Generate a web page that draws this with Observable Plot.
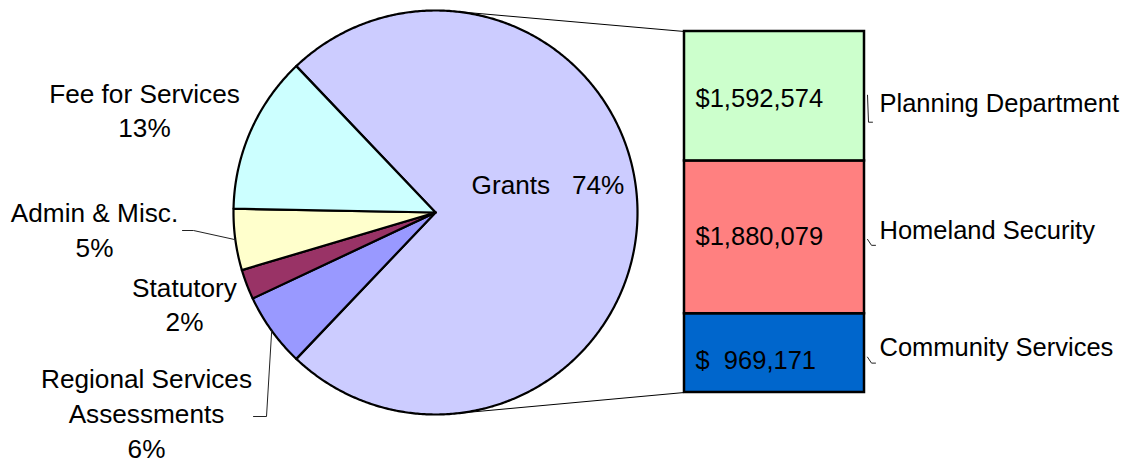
<!DOCTYPE html>
<html>
<head>
<meta charset="utf-8">
<script src="https://cdn.jsdelivr.net/npm/d3@7"></script>
<script src="https://cdn.jsdelivr.net/npm/@observablehq/plot@0.6"></script>
<style>
  html, body { margin: 0; padding: 0; background: #ffffff; }
  #chart svg text { white-space: pre; }
</style>
</head>
<body>
<div id="chart"></div>
<script>
// ---------- DATA ----------
// Pie slices, clockwise starting with the exploded "Grants" slice
const pieCategories = ["Grants", "Regional Services Assessments", "Statutory", "Admin & Misc.", "Fee for Services"];
const pieLabelNames = ["Grants", "Regional Services\nAssessments", "Statutory", "Admin & Misc.", "Fee for Services"];
const pieShares = [74.2, 5.9, 2.4, 4.9, 12.6]; // percent of total revenue

// Bar: breakdown of Grants (top to bottom)
const barCategories = ["Planning Department", "Homeland Security", "Community Services"];
const barValues = [1592574, 1880079, 969171];

// ---------- STYLES ----------
const pieColors = ["#CCCCFF", "#9999FF", "#993366", "#FFFFCC", "#CCFFFF"];
const barColors = ["#CCFFCC", "#FF8080", "#0066CC"];
const FONT = "Liberation Sans, Arial, sans-serif";
const FS = 25.5;
const FS_PIE = 26.2;

// ---------- LAYOUT (pixels) ----------
const W = 1126, H = 463;
const L = {cx: 435, cy: 212, r: 202, barX1: 684, barX2: 864, barTop: 31, barBottom: 392};
const pieLabelPos = [
  {x: 547.5, y: 182},
  {x: 146, y: 411.5},
  {x: 184, y: 302.5},
  {x: 94, y: 228},
  {x: 144, y: 108.5}
];
// leader lines: label-side start and elbow; they end on the slice's mid-angle arc point
const pieLeaderStart = [null, [[253, 416], [266, 416]], null, [[182, 230], [193, 230]], null];
const barValueDy = [3, -1, 8];
const barNameDy = [8, -7, -5];
const valueX = L.barX1 + 11;
const nameX = L.barX2 + 15;

// ---------- DERIVED ----------
const barTotal = d3.sum(barValues);
const kPx = barTotal / (L.barBottom - L.barTop);       // value units per pixel
const pv = py => (L.barBottom - py) * kPx;             // pixel y -> y-scale value
const rad = Math.PI / 180;
const pt = (deg) => [L.cx + L.r * Math.sin(deg * rad), L.cy - L.r * Math.cos(deg * rad)];

const shareTotal = d3.sum(pieShares);
let ang = 90 - (pieShares[0] / shareTotal) * 360 / 2;   // "Grants" centred on 3 o'clock
const slices = pieCategories.map((name, i) => {
  const a0 = ang, a1 = ang + (pieShares[i] / shareTotal) * 360;
  ang = a1;
  return {name, i, a0, a1, mid: (a0 + a1) / 2};
});

const pieRows = slices.flatMap(s => {
  const n = Math.max(2, Math.ceil((s.a1 - s.a0) / 0.5));
  const pts = [[L.cx, L.cy]];
  for (let k = 0; k <= n; k++) pts.push(pt(s.a0 + (s.a1 - s.a0) * k / n));
  pts.push([L.cx, L.cy]);
  return pts.map(([x, y]) => ({name: s.name, color: pieColors[s.i], x, y: pv(y)}));
});

const pieTextRows = slices.map(s => {
  const pct = Math.round(pieShares[s.i] / shareTotal * 100) + "%";
  const label = s.i === 0 ? `${pieLabelNames[s.i]}   ${pct}` : `${pieLabelNames[s.i]}\n${pct}`;
  return {label, x: pieLabelPos[s.i].x, y: pv(pieLabelPos[s.i].y)};
});

const leaderRows = slices.flatMap(s => {
  const st = pieLeaderStart[s.i];
  if (!st) return [];
  return [...st, pt(s.mid)].map(([x, y]) => ({id: s.name, x, y: pv(y)}));
});

// tangent connectors from pie to the bar's top-left and bottom-left corners
function tangent(P, upper) {
  const dx = P[0] - L.cx, dy = P[1] - L.cy;
  const d = Math.hypot(dx, dy);
  const base = Math.atan2(dy, dx), off = Math.acos(L.r / d);
  const t = upper ? base - off : base + off;
  return [L.cx + L.r * Math.cos(t), L.cy + L.r * Math.sin(t)];
}
const cTop = [L.barX1, L.barTop], cBot = [L.barX1, L.barBottom];
const connectorRows = [
  ...[tangent(cTop, true), cTop].map(([x, y]) => ({id: "top", x, y: pv(y)})),
  ...[tangent(cBot, false), cBot].map(([x, y]) => ({id: "bottom", x, y: pv(y)}))
];

// bar rows (stack from bottom, so reversed order)
const barRows = barCategories.map((name, i) => ({name, i, value: barValues[i], color: barColors[i]}));
let stackTop = barTotal;
const barLabelRows = barRows.map(d => {
  const y2 = stackTop, y1 = stackTop - d.value; stackTop = y1;
  const mid = (y1 + y2) / 2;
  const money = "$" + d3.format(",")(d.value).padStart(9, " ");
  return {...d, money, yv: mid - barValueDy[d.i] * kPx, yn: mid - barNameDy[d.i] * kPx, midPx: L.barBottom - mid / kPx};
});
const nameLeaderRows = barLabelRows.flatMap(d => {
  const cy = d.midPx + barNameDy[d.i];
  const pts = d.i === 0
    ? [[L.barX2 + 3, cy - 9], [L.barX2 + 4, cy + 18], [L.barX2 + 8, cy + 18]]
    : [[L.barX2 + 3, cy + 9], [L.barX2 + 7, cy + 15], [L.barX2 + 11, cy + 15]];
  return pts.map(([x, y]) => ({id: d.name, x, y: pv(y)}));
});

const chart = Plot.plot({
  width: W,
  height: H,
  margin: 0,
  x: {domain: [0, W], range: [0, W], axis: null},
  y: {domain: [0, barTotal], range: [L.barBottom, L.barTop], axis: null},
  color: {type: "identity"},
  style: {fontFamily: FONT, background: "#ffffff", color: "#000"},
  marks: [
    Plot.line(pieRows, {x: "x", y: "y", z: "name", fill: "color", stroke: "#000", strokeWidth: 2.2, strokeLinejoin: "round", curve: "linear"}),
    Plot.line(connectorRows, {x: "x", y: "y", z: "id", stroke: "#000", strokeWidth: 1}),
    Plot.rect(barRows.slice().reverse(), Plot.stackY({x1: L.barX1, x2: L.barX2, y: "value", fill: "color", stroke: "#000", strokeWidth: 2.5, order: null})),
    Plot.line(leaderRows, {x: "x", y: "y", z: "id", stroke: "#222", strokeWidth: 1}),
    Plot.line(nameLeaderRows, {x: "x", y: "y", z: "id", stroke: "#222", strokeWidth: 1}),
    Plot.text(pieTextRows, {x: "x", y: "y", text: "label", fontSize: FS_PIE, lineHeight: 1.32, textAnchor: "middle", lineAnchor: "middle", fill: "#000"}),
    Plot.text(barLabelRows, {x: valueX, y: "yv", text: "money", fontSize: FS, textAnchor: "start", fill: "#000"}),
    Plot.text(barLabelRows, {x: nameX, y: "yn", text: "name", fontSize: FS, textAnchor: "start", fill: "#000"})
  ]
});
document.getElementById("chart").appendChild(chart);
</script>
</body>
</html>
